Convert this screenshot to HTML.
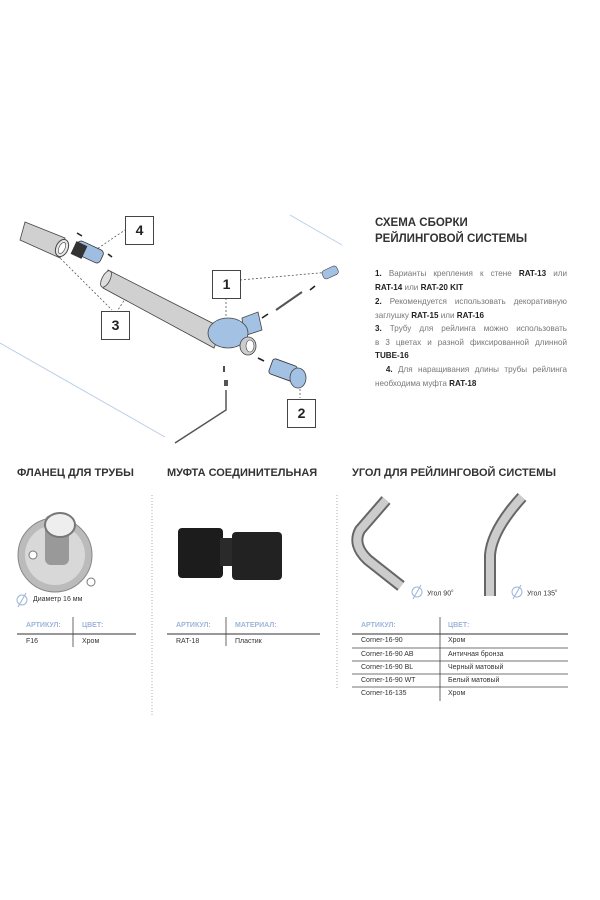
<!DOCTYPE html><html><head><meta charset="utf-8"><style>
body{margin:0;width:600px;height:900px;background:#fff;position:relative;font-family:"Liberation Sans",sans-serif;color:#333;overflow:hidden}
.a{position:absolute;white-space:nowrap}
.h{font-weight:bold;font-size:11px;color:#333}
.t{position:absolute;left:375px;width:192px;font-size:8.1px;line-height:13.5px;color:#777}
.t b{color:#222}
.j{text-align:justify;text-align-last:justify;white-space:nowrap}
.box{position:absolute;width:27px;height:27px;border:1px solid #444;background:#fff;font:bold 14px "Liberation Sans",sans-serif;text-align:center;line-height:27px;color:#222}
.th{font-size:7px;color:#9db5d8;font-weight:bold}
.td{font-size:7px;color:#333}
</style></head><body>
<svg class="a" style="left:0;top:0" width="600" height="900">
<line x1="0" y1="343" x2="165" y2="437" stroke="#b9cfe8" stroke-width="1"/>
<line x1="290" y1="215" x2="342" y2="245" stroke="#b9cfe8" stroke-width="1"/>
<g stroke="#555" stroke-dasharray="2,2" stroke-width="0.8" fill="none">
<line x1="52" y1="250" x2="112" y2="310"/><line x1="128" y1="294" x2="118" y2="310"/>
<line x1="88" y1="255" x2="125" y2="230"/><line x1="240" y1="280" x2="330" y2="272"/>
<line x1="226" y1="298" x2="226" y2="322"/><line x1="300" y1="385" x2="300" y2="398"/>
</g>
<polygon points="108,270 222,328 214,348 103,288" fill="#d0d0d0" stroke="#444" stroke-width="0.8"/>
<ellipse cx="106" cy="279" rx="4" ry="9" transform="rotate(27 106 279)" fill="#ddd" stroke="#444" stroke-width="0.8"/>
<polygon points="25,222 65,238 60,258 20,240" fill="#d0d0d0" stroke="#444" stroke-width="0.8"/>
<ellipse cx="62" cy="248" rx="6" ry="9" transform="rotate(25 62 248)" fill="#e6e6e6" stroke="#444"/>
<ellipse cx="62" cy="248" rx="3" ry="6" transform="rotate(25 62 248)" fill="#fff" stroke="#444" stroke-width="0.6"/>
<rect x="75" y="245" width="28" height="14" rx="4" transform="rotate(25 89 252)" fill="#9fbde0" stroke="#333" stroke-width="0.8"/>
<rect x="73" y="243" width="12" height="14" transform="rotate(25 79 250)" fill="#333"/>
<path d="M242,318 L258,312 L262,330 L244,336 Z" fill="#a3c1e3" stroke="#444" stroke-width="0.8"/>
<ellipse cx="228" cy="333" rx="20" ry="15" fill="#a3c1e3" stroke="#444" stroke-width="0.8"/>
<ellipse cx="248" cy="346" rx="8" ry="9" fill="#ccc" stroke="#444" stroke-width="0.8"/>
<ellipse cx="250" cy="346" rx="4" ry="6" fill="#fff" stroke="#444" stroke-width="0.6"/>
<line x1="276" y1="310" x2="302" y2="292" stroke="#555" stroke-width="2"/>
<rect x="322" y="268" width="16" height="9" rx="3" transform="rotate(-25 330 272)" fill="#a3c1e3" stroke="#444" stroke-width="0.6"/>
<rect x="270" y="362" width="26" height="16" rx="3" transform="rotate(20 283 370)" fill="#a3c1e3" stroke="#333" stroke-width="0.8"/>
<ellipse cx="298" cy="378" rx="8" ry="10" fill="#a3c1e3" stroke="#444" stroke-width="0.8"/>
<polyline points="226,390 226,410 175,443" fill="none" stroke="#555" stroke-width="1.5"/>
<rect x="224" y="380" width="4" height="6" fill="#555"/>
<g stroke="#222" stroke-width="1.6"><line x1="77" y1="233" x2="82" y2="236"/><line x1="108" y1="254" x2="112" y2="257"/><line x1="262" y1="318" x2="268" y2="314"/><line x1="310" y1="290" x2="315" y2="286"/><line x1="258" y1="358" x2="264" y2="361"/><line x1="224" y1="366" x2="224" y2="372"/></g>
<g stroke="#999" stroke-dasharray="1,2" stroke-width="0.8"><line x1="152" y1="495" x2="152" y2="715"/><line x1="337" y1="495" x2="337" y2="690"/></g>
<circle cx="55" cy="555" r="37" fill="#bbb" stroke="#888"/>
<circle cx="55" cy="555" r="30" fill="#d8d8d8"/>
<rect x="45" y="515" width="24" height="50" rx="6" fill="#999"/>
<ellipse cx="60" cy="525" rx="15" ry="12" fill="#eee" stroke="#777" stroke-width="2"/>
<circle cx="33" cy="555" r="4" fill="#fff" stroke="#777"/><circle cx="91" cy="582" r="4" fill="#fff" stroke="#777"/>
<rect x="178" y="528" width="45" height="50" rx="4" fill="#1c1c1c"/>
<rect x="220" y="538" width="12" height="28" fill="#2a2a2a"/>
<rect x="232" y="532" width="50" height="48" rx="4" fill="#222"/>
<path d="M401,586 L368,560 Q352,545 360,530 L386,500" fill="none" stroke="#666" stroke-width="12"/>
<path d="M401,586 L368,560 Q352,545 360,530 L386,500" fill="none" stroke="#ccc" stroke-width="8"/>
<path d="M490,596 L490,555 Q492,530 522,497" fill="none" stroke="#666" stroke-width="12"/>
<path d="M490,596 L490,555 Q492,530 522,497" fill="none" stroke="#ccc" stroke-width="8"/>
<g stroke="#777" stroke-width="1.4"><line x1="17" y1="634" x2="136" y2="634"/><line x1="167" y1="634" x2="320" y2="634"/><line x1="352" y1="634" x2="568" y2="634"/></g>
<g stroke="#444" stroke-width="0.8"><line x1="73" y1="617" x2="73" y2="647"/><line x1="226" y1="617" x2="226" y2="646"/><line x1="440" y1="617" x2="440" y2="701"/>
<line x1="352" y1="648" x2="568" y2="648"/><line x1="352" y1="661" x2="568" y2="661"/><line x1="352" y1="674" x2="568" y2="674"/><line x1="352" y1="687" x2="568" y2="687"/></g>
<g fill="none" stroke="#9db5d8" stroke-width="1"><circle cx="22" cy="600" r="5"/><line x1="18" y1="607" x2="26" y2="593"/><circle cx="417" cy="592" r="5"/><line x1="413" y1="599" x2="421" y2="585"/><circle cx="517" cy="592" r="5"/><line x1="513" y1="599" x2="521" y2="585"/></g>
</svg>
<div class="box" style="left:125px;top:216px">4</div>
<div class="box" style="left:212px;top:270px">1</div>
<div class="box" style="left:101px;top:311px">3</div>
<div class="box" style="left:287px;top:399px">2</div>
<div class="a" style="left:375px;top:215px;font-weight:bold;font-size:11.5px;line-height:16px;color:#333">СХЕМА СБОРКИ<br>РЕЙЛИНГОВОЙ СИСТЕМЫ</div>
<div class="t" style="top:267px"><div class="j"><b>1.</b> Варианты крепления к стене <b>RAT-13</b> или</div><div><b>RAT-14</b> или <b>RAT-20 KIT</b></div></div>
<div class="t" style="top:295px"><div class="j"><b>2.</b> Рекомендуется использовать декоративную</div><div>заглушку <b>RAT-15</b> или <b>RAT-16</b></div></div>
<div class="t" style="top:322px"><div class="j"><b>3.</b> Трубу для рейлинга можно использовать</div><div class="j">в 3 цветах и разной фиксированной длинной</div><div><b>TUBE-16</b></div></div>
<div class="t" style="top:363px"><div class="j">&nbsp;&nbsp;<b>4.</b> Для наращивания длины трубы рейлинга</div><div>необходима муфта <b>RAT-18</b></div></div>
<div class="a h" style="left:17px;top:467px">ФЛАНЕЦ ДЛЯ ТРУБЫ</div>
<div class="a h" style="left:167px;top:467px">МУФТА СОЕДИНИТЕЛЬНАЯ</div>
<div class="a h" style="left:352px;top:467px">УГОЛ ДЛЯ РЕЙЛИНГОВОЙ СИСТЕМЫ</div>
<div class="a td" style="left:33px;top:596px">Диаметр 16 мм</div>
<div class="a td" style="left:427px;top:588px">Угол 90<sup style="font-size:4px">0</sup></div>
<div class="a td" style="left:527px;top:588px">Угол 135<sup style="font-size:4px">0</sup></div>
<div class="a th" style="left:26px;top:622px">АРТИКУЛ:</div><div class="a th" style="left:82px;top:622px">ЦВЕТ:</div>
<div class="a td" style="left:26px;top:638px">F16</div><div class="a td" style="left:82px;top:638px">Хром</div>
<div class="a th" style="left:176px;top:622px">АРТИКУЛ:</div><div class="a th" style="left:235px;top:622px">МАТЕРИАЛ:</div>
<div class="a td" style="left:176px;top:638px">RAT-18</div><div class="a td" style="left:235px;top:638px">Пластик</div>
<div class="a th" style="left:361px;top:622px">АРТИКУЛ:</div><div class="a th" style="left:448px;top:622px">ЦВЕТ:</div>
<div class="a td" style="left:361px;top:637px">Corner-16-90</div><div class="a td" style="left:448px;top:637px">Хром</div>
<div class="a td" style="left:361px;top:651px">Corner-16-90 AB</div><div class="a td" style="left:448px;top:651px">Античная бронза</div>
<div class="a td" style="left:361px;top:664px">Corner-16-90 BL</div><div class="a td" style="left:448px;top:664px">Черный матовый</div>
<div class="a td" style="left:361px;top:677px">Corner-16-90 WT</div><div class="a td" style="left:448px;top:677px">Белый матовый</div>
<div class="a td" style="left:361px;top:690px">Corner-16-135</div><div class="a td" style="left:448px;top:690px">Хром</div>
</body></html>
